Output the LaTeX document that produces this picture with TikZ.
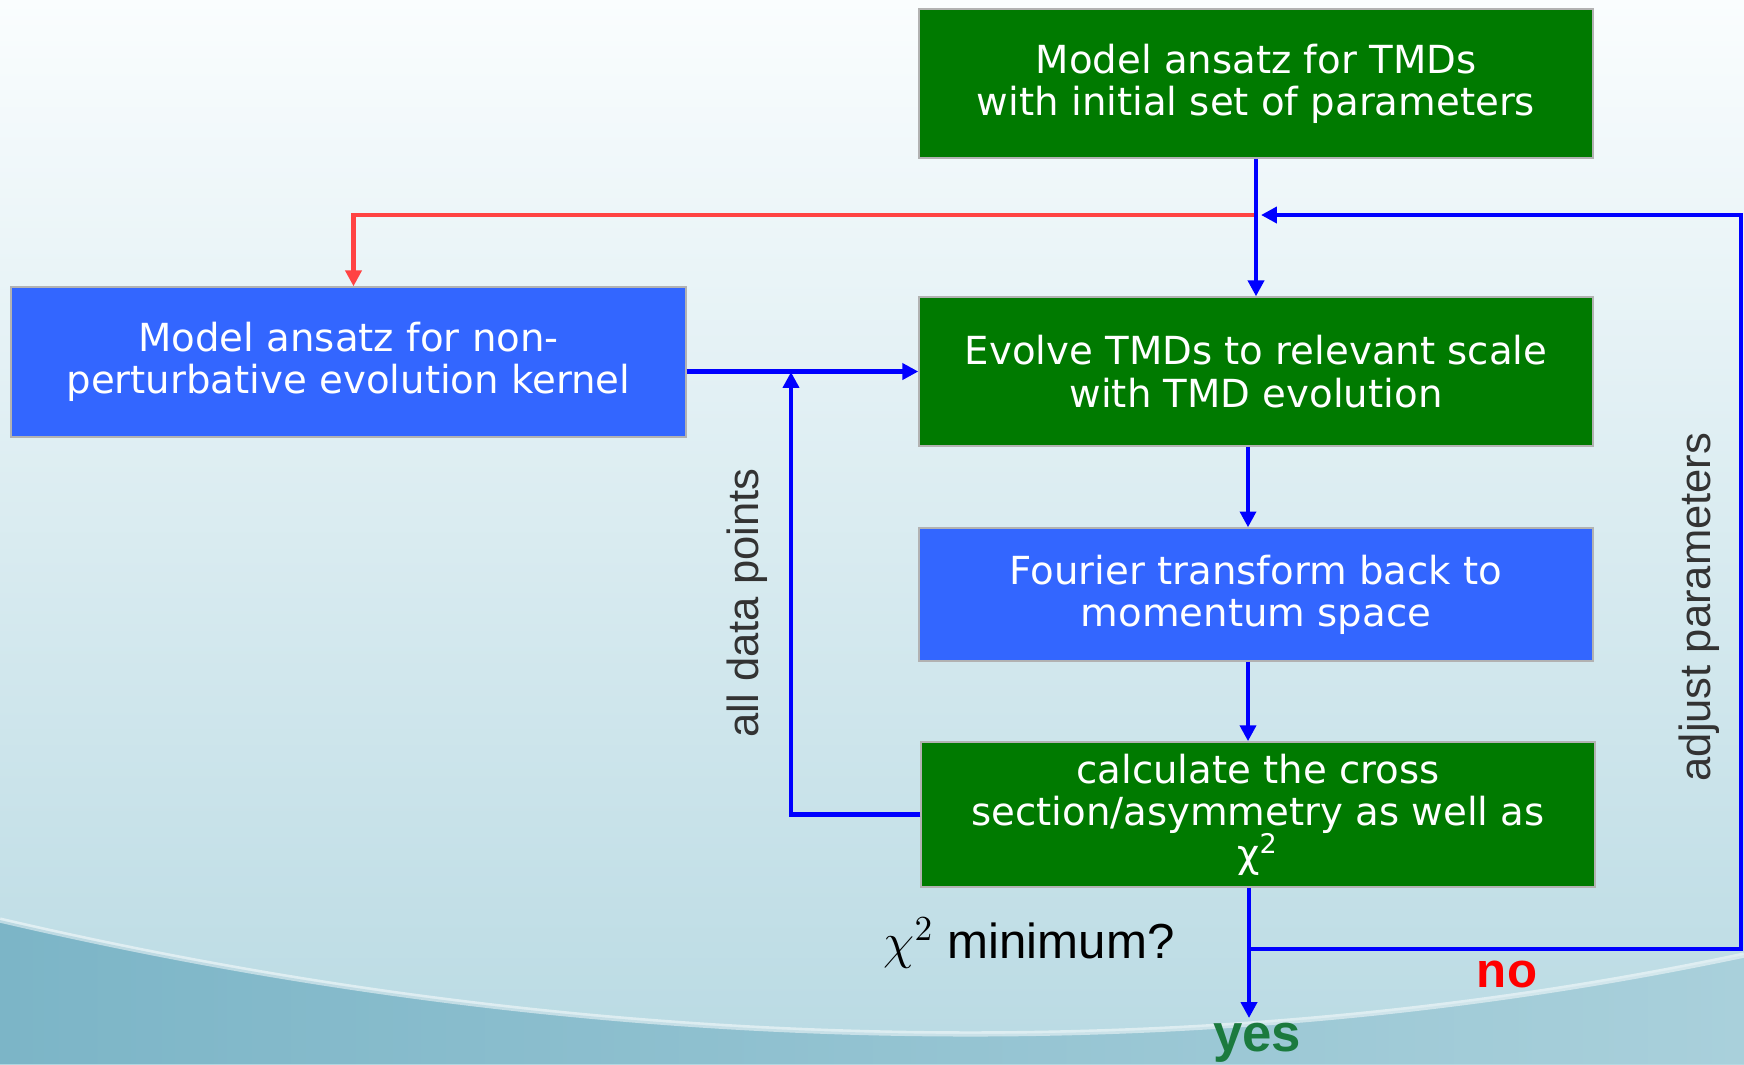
\documentclass[tikz,border=0pt]{standalone}
\usepackage{fontspec}
\setmainfont{DejaVu Sans}
\newfontfamily\narrowfont{Liberation Sans}
\usetikzlibrary{arrows.meta}

\definecolor{boxgreen}{HTML}{007A00}
\definecolor{boxblue}{HTML}{3366FF}
\definecolor{flowblue}{HTML}{0000FF}
\definecolor{flowred}{HTML}{FF4343}
\definecolor{yesgreen}{HTML}{1B7A3E}
\definecolor{bgtop}{HTML}{FAFDFE}
\definecolor{bgmid}{HTML}{F3F9FB}
\definecolor{bgbottom}{HTML}{B9DAE3}
\definecolor{wavedark}{HTML}{7CB5C7}
\definecolor{wavelight}{HTML}{A9D0DB}

\tikzset{
    stepbase/.style={draw=black!30, rectangle, text=white, align=center,
        minimum width=6.74cm, font=\fontsize{11}{12}\selectfont},
    greenbox/.style={stepbase, fill=boxgreen},
    bluebox/.style={stepbase, fill=boxblue},
    flow/.style={flowblue, line width=1.3pt, -{Triangle[length=4.5pt,width=4.5pt]}},
    sidelabel/.style={text=black!80, font=\narrowfont\fontsize{12.4}{14}\selectfont}
}

\begin{document}
\begin{tikzpicture}
    % background
    \useasboundingbox (0,0) rectangle (17.44,-10.64);
    \shade[top color=bgtop, middle color=bgmid, bottom color=bgbottom]
        (0,0) rectangle (17.44,-10.64);
    \shade[left color=wavedark, right color=wavelight]
        (0,-9.2) .. controls (6,-10.6) and (12,-10.7) .. (17.44,-9.55)
        -- (17.44,-10.64) -- (0,-10.64) -- cycle;
    \draw[white, opacity=0.5, line width=1.5pt]
        (0,-9.2) .. controls (6,-10.6) and (12,-10.7) .. (17.44,-9.55);

    \node[greenbox, minimum height=1.49cm] (ansatz) at (12.56,-0.835) {Model ansatz for TMDs\\with initial set of parameters};
    \node[greenbox, minimum height=1.49cm] (evolve) at (12.56,-3.715) {Evolve TMDs to relevant scale\\with TMD evolution};
    \node[bluebox, minimum height=1.33cm] (fourier) at (12.56,-5.945) {Fourier transform back to\\momentum space};
    \node[greenbox, minimum height=1.35cm] (calc) at (12.58,-8.145) {calculate the cross\\section/asymmetry as well as\\χ\textsuperscript{2}};
    \node[bluebox, minimum width=6.75cm, minimum height=1.50cm] (kernel) at (3.485,-3.62) {Model ansatz for non-\\perturbative evolution kernel};

    \coordinate (split) at (12.56,-2.15);
    \coordinate (rightcol) at (17.41,-2.15);
    \coordinate (fork) at (12.49,-9.49);
    \coordinate (loopin) at (7.91,-3.72);
    \coordinate (yesend) at (12.49,-10.18);

    \draw[flowred, line width=1.3pt, -{Triangle[length=4.5pt,width=4.5pt]}] (split) -| ([xshift=0.05cm]kernel.north);
    \draw[flow] (ansatz.south) -- (evolve.north);
    \draw[flow] (kernel.east |- evolve.west) -- (evolve.west);
    \draw[flow] ([xshift=-0.08cm]evolve.south) -- ([xshift=-0.08cm]fourier.north);
    \draw[flow] ([xshift=-0.08cm]fourier.south) -- ([xshift=-0.08cm]fourier.south |- calc.north);
    \draw[flow] (calc.west) -| (loopin);
    \draw[flow] (fork |- calc.south) -- (yesend);
    \draw[flow] (fork) -| (rightcol) -- ([xshift=0.05cm]split);

    \node[sidelabel, rotate=90] (alldata) at (7.47,-6.03) {all data points};
    \node[sidelabel, rotate=90] (adjust) at (16.99,-6.07) {adjust parameters};
    \node[text=black, font=\narrowfont\fontsize{14}{16}\selectfont] (minq) at (10.29,-9.43) {$\chi^2$ minimum?};
    \node[text=red, font=\narrowfont\bfseries\fontsize{14}{16}\selectfont] (no) at (15.07,-9.74) {no};
    \node[text=yesgreen, font=\narrowfont\bfseries\fontsize{15}{17}\selectfont] (yes) at (12.57,-10.43) {yes};
\end{tikzpicture}
\end{document}
